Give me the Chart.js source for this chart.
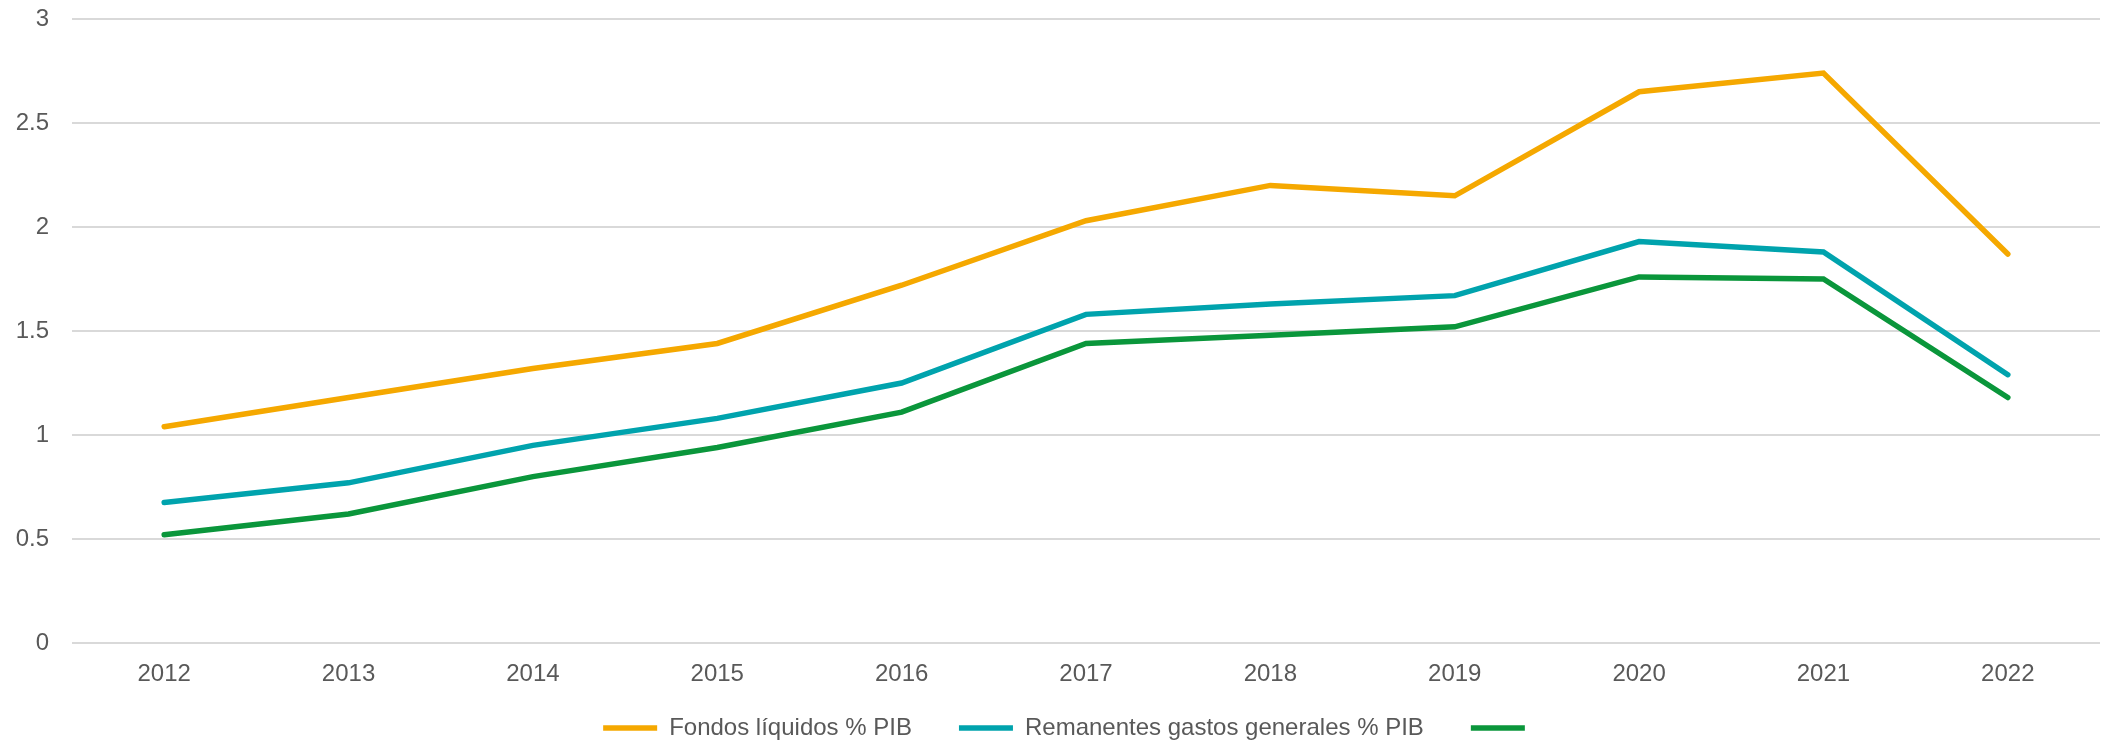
<!DOCTYPE html>
<html>
<head>
<meta charset="utf-8">
<script src="https://cdn.jsdelivr.net/npm/chart.js@4"></script>
<style>
  html, body { margin: 0; padding: 0; background: #ffffff; }
  #wrap { width: 2102px; height: 743px; }
</style>
</head>
<body>
<div id="wrap"><canvas id="myChart" width="2102" height="743"></canvas></div>
<script>
// Datos del gráfico
const anios = ["2012", "2013", "2014", "2015", "2016", "2017", "2018", "2019", "2020", "2021", "2022"];
const fondosLiquidos = [1.04, 1.18, 1.32, 1.44, 1.72, 2.03, 2.20, 2.15, 2.65, 2.74, 1.87];
const remanentes = [0.675, 0.77, 0.95, 1.08, 1.25, 1.58, 1.63, 1.67, 1.93, 1.88, 1.29];
const terceraSerie = [0.52, 0.62, 0.80, 0.94, 1.11, 1.44, 1.48, 1.52, 1.76, 1.75, 1.18];

const fuente = "'Liberation Sans', Arial, Helvetica, sans-serif";
const gris = "#595959";

function serie(label, data, color) {
    return {
        label: label,
        data: data,
        borderColor: color,
        backgroundColor: color,
        borderWidth: 5.5,
        borderCapStyle: "round",
        borderJoinStyle: "miter",
        pointRadius: 0,
        pointHoverRadius: 0,
        tension: 0,
        fill: false,
        pointStyle: "line",
    };
}

// Ajuste de la leyenda: altura fija, fila centrada en y = 728 y algo desplazada a la derecha
const ajusteLeyenda = {
    id: "ajusteLeyenda",
    beforeLayout(chart) {
        const leyenda = chart.legend;
        if (leyenda && !leyenda._ajustada) {
            const fitOriginal = leyenda.fit;
            leyenda.fit = function () {
                fitOriginal.call(this);
                this.height = 50;
            };
            leyenda._ajustada = true;
        }
    },
    afterLayout(chart) {
        const leyenda = chart.legend;
        const pad = leyenda.options.labels.padding;
        leyenda.top = 728 - pad - 12;
        leyenda.bottom = chart.height;
        leyenda.height = leyenda.bottom - leyenda.top;
        leyenda.left += 20;
        leyenda.right += 20;
    },
};

const ctx = document.getElementById("myChart").getContext("2d");
const myChart = new Chart(ctx, {
    type: "line",
    data: {
        labels: anios,
        datasets: [
            serie("Fondos líquidos % PIB", fondosLiquidos, "#F5A800"),
            serie("Remanentes gastos generales % PIB", remanentes, "#00A3AD"),
            serie("", terceraSerie, "#0A963B"),
        ],
    },
    plugins: [ajusteLeyenda],
    options: {
        responsive: false,
        animation: false,
        devicePixelRatio: 1,
        layout: {
            padding: { top: 19, right: 2, bottom: 0, left: 0 },
        },
        plugins: {
            tooltip: { enabled: false },
            legend: {
                position: "bottom",
                labels: {
                    usePointStyle: true,
                    pointStyleWidth: 54,
                    boxHeight: 24,
                    padding: 47,
                    color: gris,
                    font: { family: fuente, size: 24 },
                },
            },
        },
        scales: {
            x: {
                offset: true,
                afterFit: function (scale) { scale.height = 50; },
                grid: { display: false, drawTicks: false },
                border: { display: false },
                ticks: {
                    color: gris,
                    padding: 17,
                    maxRotation: 0,
                    font: { family: fuente, size: 24 },
                },
            },
            y: {
                min: 0,
                max: 3,
                afterFit: function (scale) {
                    scale.width = 72;
                    scale.paddingTop = 0;
                    scale.paddingBottom = 0;
                },
                grid: { color: "#d9d9d9", lineWidth: 2, drawTicks: false },
                border: { display: false },
                ticks: {
                    stepSize: 0.5,
                    color: gris,
                    padding: 23,
                    font: { family: fuente, size: 24 },
                    callback: function (valor) { return String(valor); },
                },
            },
        },
    },
});
</script>
</body>
</html>
